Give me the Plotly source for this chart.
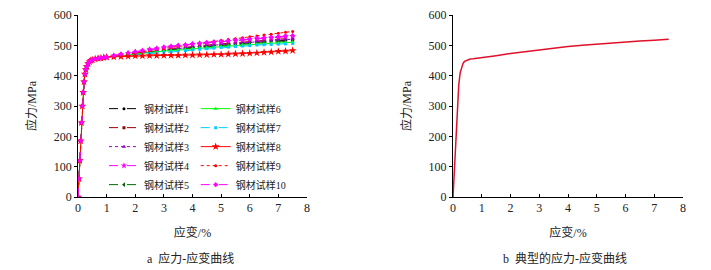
import plotly.graph_objects as go

# ---------------- data ----------------
strain = [0, 0.03, 0.06, 0.09, 0.12, 0.15, 0.18, 0.21, 0.24, 0.27, 0.3, 0.35, 0.4, 0.45, 0.5,
          0.6, 0.7, 0.8, 0.9, 1.0, 1.25, 1.5, 1.75, 2.0, 2.25, 2.5, 2.75, 3.0, 3.25, 3.5, 3.75,
          4.0, 4.25, 4.5, 4.75, 5.0, 5.25, 5.5, 5.75, 6.0, 6.25, 6.5, 6.75, 7.0, 7.25, 7.5]

# elastic / yield part (strain 0 .. 1.0), common to all specimens
elastic_stress = [0, 60, 120, 185, 245, 300, 345, 380, 405, 420, 430, 440, 446, 450, 452,
                  455, 457, 458, 460, 461]

# hardening part (strain 1.25 .. 7.5)
hard_1 = [464, 467, 470, 473, 476, 479, 481, 484, 487, 489, 491, 493, 496, 498, 500, 502, 504,
          505, 507, 509, 511, 512, 514, 515, 517, 518]
hard_2 = [465, 468, 471, 474, 477, 480, 483, 486, 489, 491, 494, 496, 499, 501, 503, 506, 507,
          509, 511, 513, 515, 517, 519, 520, 522, 523]
hard_3 = [464, 467, 470, 473, 476, 479, 482, 485, 488, 490, 492, 495, 497, 499, 501, 503, 505,
          507, 509, 511, 512, 514, 516, 517, 519, 520]
hard_4 = [466, 470, 474, 478, 482, 486, 489, 493, 496, 498, 501, 504, 506, 508, 510, 512, 514,
          516, 518, 520, 522, 524, 525, 527, 529, 530]
hard_5 = [464, 467, 469, 472, 475, 477, 480, 483, 485, 487, 489, 491, 493, 495, 497, 499, 501,
          502, 504, 506, 507, 509, 510, 511, 513, 514]
hard_6 = [464, 466, 469, 471, 474, 476, 479, 481, 483, 485, 487, 489, 491, 493, 494, 496, 498,
          499, 501, 502, 504, 505, 507, 508, 509, 510]
hard_7 = [463, 465, 467, 469, 471, 473, 475, 477, 479, 481, 483, 485, 487, 489, 491, 493, 494,
          496, 498, 499, 501, 502, 503, 504, 505, 506]
hard_8 = [462, 463, 464, 465, 465, 466, 466, 467, 467, 467, 468, 468, 469, 469, 470, 470, 471,
          472, 473, 474, 475, 477, 478, 480, 481, 483]
hard_9 = [465, 468, 472, 475, 479, 482, 486, 489, 493, 496, 500, 503, 506, 510, 513, 516, 519,
          522, 525, 528, 531, 534, 537, 540, 543, 546]
hard_10 = [466, 471, 475, 479, 483, 487, 490, 494, 497, 500, 502, 505, 507, 509, 511, 513, 515,
           517, 519, 521, 523, 525, 527, 529, 531, 532]

specimen_names = ["钢材试样1", "钢材试样2", "钢材试样3", "钢材试样4", "钢材试样5",
                  "钢材试样6", "钢材试样7", "钢材试样8", "钢材试样9", "钢材试样10"]
hardening = [hard_1, hard_2, hard_3, hard_4, hard_5, hard_6, hard_7, hard_8, hard_9, hard_10]

typical_strain = [0, 0.05, 0.1, 0.15, 0.2, 0.25, 0.3, 0.35, 0.4, 0.5, 0.6, 0.7, 0.8, 1.0, 1.5,
                  2.0, 2.5, 3.0, 3.5, 4.0, 4.5, 5.0, 5.5, 6.0, 6.5, 7.0, 7.5]
typical_stress = [0, 100, 210, 300, 370, 410, 430, 441, 447, 452, 455, 456, 457, 460, 466,
                  473, 479, 485, 491, 496, 500, 504, 508, 511, 514, 517, 520]

x_ticks = [0, 1, 2, 3, 4, 5, 6, 7, 8]
y_ticks = [0, 100, 200, 300, 400, 500, 600]

# ---------------- styles ----------------
colors = ["#000000", "#990000", "#9900CC", "#FF00FF", "#006600",
          "#00FF00", "#00CCFF", "#FF0000", "#FF0000", "#FF00FF"]
dashes = ["dash", "dash", "dot", "dash", "dash", "solid", "dash", "solid", "dot", "dash"]
symbols = ["circle", "square", "triangle-up", "star", "triangle-left",
           "triangle-up", "square", "star", "circle", "diamond"]
msizes = [3, 3, 4, 5, 4, 4, 3, 6, 3, 4]

FONT = "Liberation Serif, Noto Sans CJK SC, serif"
NUMFONT = "Liberation Serif"

fig = go.Figure()
for i in range(10):
    fig.add_trace(go.Scatter(
        x=strain, y=elastic_stress + hardening[i],
        mode="lines+markers", name=specimen_names[i],
        line=dict(color=colors[i], width=1, dash=dashes[i]),
        marker=dict(symbol=symbols[i], size=msizes[i], color=colors[i]),
        xaxis="x", yaxis="y",
        legend="legend" if i < 5 else "legend2",
    ))

fig.add_trace(go.Scatter(
    x=typical_strain, y=typical_stress, mode="lines",
    line=dict(color="#E0102A", width=1.5), showlegend=False,
    xaxis="x2", yaxis="y2",
))

ax_common = dict(
    range=[0, 8], tickvals=x_ticks, showgrid=False, zeroline=False,
    showline=True, linecolor="black", linewidth=1, automargin=False,
    ticks="inside", ticklen=3, tickcolor="black",
    tickfont=dict(family=NUMFONT, size=12, color="#222"),
    title=dict(text="应变/%", font=dict(family=FONT, size=12, color="#222"), standoff=14),
)
ay_common = dict(
    range=[0, 600], tickvals=y_ticks, showgrid=False, zeroline=False,
    showline=True, linecolor="black", linewidth=1, automargin=False,
    ticks="outside", ticklen=3, tickcolor="black",
    tickfont=dict(family=NUMFONT, size=12, color="#222"),
    title=dict(text="应力/MPa", font=dict(family=FONT, size=12, color="#222"), standoff=14),
)

# page has an 8px body margin, so positions are shifted up/left by 8px
y_dom = [0.300, 0.974]
fig.update_layout(
    width=711, height=270,
    margin=dict(l=0, r=0, t=0, b=0, autoexpand=False),
    paper_bgcolor="white", plot_bgcolor="white",
    xaxis=dict(domain=[0.0985, 0.4205], anchor="y", **ax_common),
    yaxis=dict(domain=y_dom, anchor="x", **ay_common),
    xaxis2=dict(domain=[0.6259, 0.9494], anchor="y2", **ax_common),
    yaxis2=dict(domain=y_dom, anchor="x2", **ay_common),
    legend=dict(x=0.135, y=0.681, xanchor="left", yanchor="top",
                bgcolor="rgba(0,0,0,0)", font=dict(family=FONT, size=10, color="#222"),
                itemwidth=30, tracegroupgap=0),
    legend2=dict(x=0.264, y=0.681, xanchor="left", yanchor="top",
                 bgcolor="rgba(0,0,0,0)", font=dict(family=FONT, size=10, color="#222"),
                 itemwidth=30, tracegroupgap=0),
    annotations=[
        dict(text="a  应力-应变曲线", x=0.256, y=0.074, xref="paper", yref="paper",
             xanchor="center", yanchor="middle",
             showarrow=False, font=dict(family=FONT, size=12, color="#222")),
        dict(text="b  典型的应力-应变曲线", x=0.783, y=0.074, xref="paper", yref="paper",
             xanchor="center", yanchor="middle",
             showarrow=False, font=dict(family=FONT, size=12, color="#222")),
    ],
)

fig.write_html("out.html")
